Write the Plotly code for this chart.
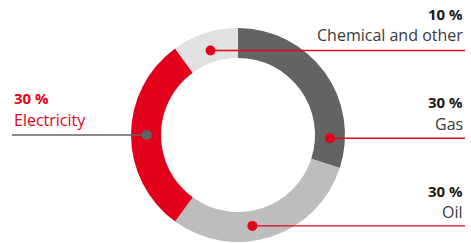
import math
import plotly.graph_objects as go

# ---- data ----
categories = ["Gas", "Oil", "Electricity", "Chemical and other"]
shares = [30, 30, 30, 10]
pct_labels = ["30 %", "30 %", "30 %", "10 %"]

# ---- style / layout ----
W, H = 471, 243
slice_colors = ["#626362", "#bcbdbc", "#e3001b", "#e0e1e0"]
RED = "#e3001b"
GRAY = "#626362"
dom_x = [131 / W, 345 / W]
dom_y = [1 / H, 215 / H]
hole = 0.72

# centre and radius (pixels, top-down) derived from the pie domain
cx = (dom_x[0] + dom_x[1]) / 2 * W
cy = H - (dom_y[0] + dom_y[1]) / 2 * H
R = min((dom_x[1] - dom_x[0]) * W, (dom_y[1] - dom_y[0]) * H) / 2

# leader anchors: angle (deg, clockwise from 12 o'clock) and radius fraction
anchor_angle = [92, 171, 270, 342]
anchor_rfrac = [0.86, 0.86, 0.853, 0.83]
side = ["right", "right", "left", "right"]
line_colors = [RED, RED, GRAY, RED]
dot_colors = [RED, RED, GRAY, RED]
pct_y = [102, 191, 98, 14.2]
lab_y = [124, 211.7, 119.5, 35.2]
pct_color = ["#1a1a1a", "#1a1a1a", RED, "#1a1a1a"]
lab_color = ["#3a3a3a", "#3a3a3a", RED, "#3a3a3a"]
x_right = 465
x_left = 12
FONT = "Open Sans"

fig = go.Figure(go.Pie(
    labels=categories, values=shares, sort=False, direction="clockwise",
    rotation=0, hole=hole, textinfo="none", hoverinfo="label+percent",
    marker=dict(colors=slice_colors, line=dict(width=0)),
    domain=dict(x=dom_x, y=dom_y), showlegend=False,
))

px2x = lambda p: p / W
px2y = lambda p: 1 - p / H

shapes = []
annotations = []
for i, cat in enumerate(categories):
    a = math.radians(anchor_angle[i])
    r = R * anchor_rfrac[i]
    dx = cx + r * math.sin(a)
    dy = cy - r * math.cos(a)
    x_end = x_right if side[i] == "right" else x_left
    shapes.append(dict(type="line", xref="paper", yref="paper",
                       x0=px2x(dx), y0=px2y(dy), x1=px2x(x_end), y1=px2y(dy),
                       line=dict(color=line_colors[i], width=1.4)))
    rd = 5
    shapes.append(dict(type="circle", xref="paper", yref="paper",
                       x0=px2x(dx - rd), x1=px2x(dx + rd),
                       y0=px2y(dy - rd), y1=px2y(dy + rd),
                       fillcolor=dot_colors[i], line=dict(width=0)))
    xa = "right" if side[i] == "right" else "left"
    annotations.append(dict(xref="paper", yref="paper", x=px2x(x_end), y=px2y(pct_y[i]),
                            xanchor=xa, yanchor="middle", showarrow=False,
                            text="<b>" + pct_labels[i] + "</b>",
                            font=dict(family=FONT, size=15, color=pct_color[i])))
    annotations.append(dict(xref="paper", yref="paper", x=px2x(x_end), y=px2y(lab_y[i]),
                            xanchor=xa, yanchor="middle", showarrow=False,
                            text=cat,
                            font=dict(family=FONT, size=16, color=lab_color[i])))

fig.update_layout(
    width=W, height=H, margin=dict(l=0, r=0, t=0, b=0),
    paper_bgcolor="white", plot_bgcolor="white",
    shapes=shapes, annotations=annotations,
)
fig.write_html("out.html", config={"displayModeBar": False},
               post_script="document.body.style.margin='0';document.body.style.overflow='hidden';")
